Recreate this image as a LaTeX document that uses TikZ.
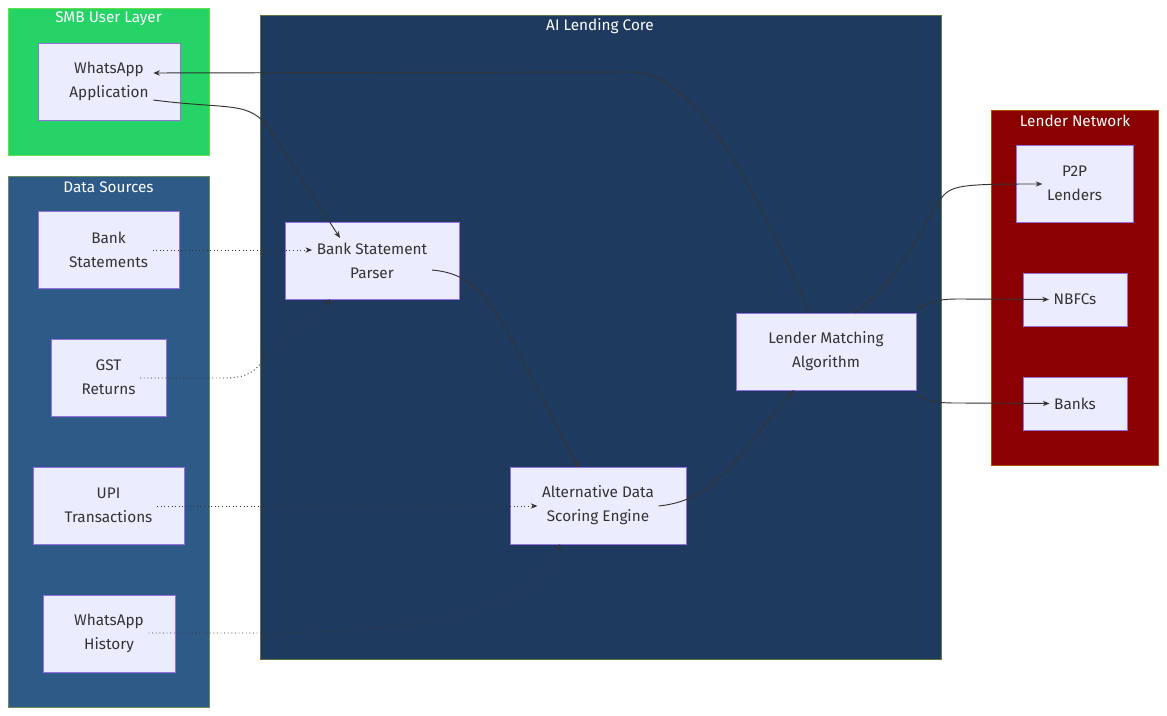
\documentclass[tikz,border=0pt]{standalone}
\usepackage{fontspec}
\setmainfont{Fira Sans}
\usetikzlibrary{arrows.meta}
\definecolor{nodefill}{HTML}{ECECFF}
\definecolor{nodeborder}{HTML}{9370DB}
\definecolor{smbgreen}{HTML}{25D366}
\definecolor{dsblue}{HTML}{2E5A88}
\definecolor{coreblue}{HTML}{1E3A5F}
\definecolor{lendred}{HTML}{8B0000}
\definecolor{edgec}{HTML}{333333}
\begin{document}
\begin{tikzpicture}[x=0.75pt,y=-0.75pt,
  grp/.style={draw=#1!70!yellow,fill=#1,line width=0.6pt},
  gtitle/.style={text=white,font=\fontsize{11.5}{13}\selectfont,anchor=center},
  nd/.style={draw=nodeborder,fill=nodefill,line width=0.6pt},
  nt/.style={align=center,font=\fontsize{11.5}{18}\selectfont,text=edgec},
  ed/.style={draw=edgec,line width=0.7pt,-{Stealth[length=5pt,width=4pt]}},
  dt/.style={ed,dotted}]
\useasboundingbox (0,0) rectangle (1167,716);
\fill[white] (0,0) rectangle (1167,716);
% groups
\draw[grp=smbgreen] (8,8) rectangle (209,155);
\node[gtitle] (tsmb) at (108.5,19) {SMB User Layer};
\draw[grp=dsblue] (8,176) rectangle (209,707);
\node[gtitle] (tds) at (108.5,187) {Data Sources};
\draw[grp=coreblue] (260,15) rectangle (941,659);
\node[gtitle] (tcore) at (600,26) {AI Lending Core};
\draw[grp=lendred] (991,110) rectangle (1158,465);
\node[gtitle] (tlend) at (1075,121) {Lender Network};
% nodes
\newcommand{\nodebox}[6]{\draw[nd] (#2,#3) rectangle (#4,#5);
  \node[nt] (#1) at ({(#2+#4)/2},{(#3+#5)/2}) {#6};
  \coordinate (#1nw) at (#2,#3); \coordinate (#1se) at (#4,#5);}
\nodebox{wa}{38}{43}{180}{120}{WhatsApp\\Application}
\nodebox{bs}{38}{211}{179}{288}{Bank\\Statements}
\nodebox{gst}{51}{339}{166}{416}{GST\\Returns}
\nodebox{upi}{33}{467}{184}{544}{UPI\\Transactions}
\nodebox{wh}{43}{595}{175}{672}{WhatsApp\\History}
\nodebox{bsp}{285}{222}{459}{299}{Bank Statement\\Parser}
\nodebox{ads}{510}{467}{686}{544}{Alternative Data\\Scoring Engine}
\nodebox{lma}{736}{313}{916}{390}{Lender Matching\\Algorithm}
\nodebox{p2p}{1016}{145}{1133}{222}{P2P\\Lenders}
\nodebox{nbfc}{1023}{273}{1127}{326}{NBFCs}
\nodebox{banks}{1023}{377}{1127}{430}{Banks}
% edges
\draw[ed] (wa.east |- 0,100) .. controls (230,110) and (250,100) .. (270,130) -- (bsp.north -| 340,0);
\draw[ed] (bsp.east |- 0,270) .. controls (490,275) and (500,320) .. (578,467);
\draw[dt] (bs.east |- 0,250) -- (bsp.west |- 0,250);
\draw[dt] (gst.east |- 0,378) -- (225,378) .. controls (260,378) and (260,360) .. (280,340) .. controls (310,320) and (325,310) .. (330,299);
\draw[dt] (upi.east |- 0,506) -- (ads.west |- 0,506);
\draw[dt] (wh.east |- 0,633) -- (260,633) .. controls (420,633) and (540,610) .. (560,544);
\draw[ed] (ads.east |- 0,506) .. controls (720,500) and (740,450) .. (794,390);
\draw[ed] (810,313) .. controls (760,200) and (700,72) .. (630,72) -- (wa.east |- 0,73);
\draw[ed] (855,313) .. controls (900,280) and (920,230) .. (940,200) .. controls (950,185) and (960,184) .. (p2p.west |- 0,184);
\draw[ed] (916,310) .. controls (935,300) and (940,299) .. (960,299) -- (nbfc.west);
\draw[ed] (916,395) .. controls (935,403) and (940,403) .. (960,403) -- (banks.west);
\end{tikzpicture}
\end{document}
